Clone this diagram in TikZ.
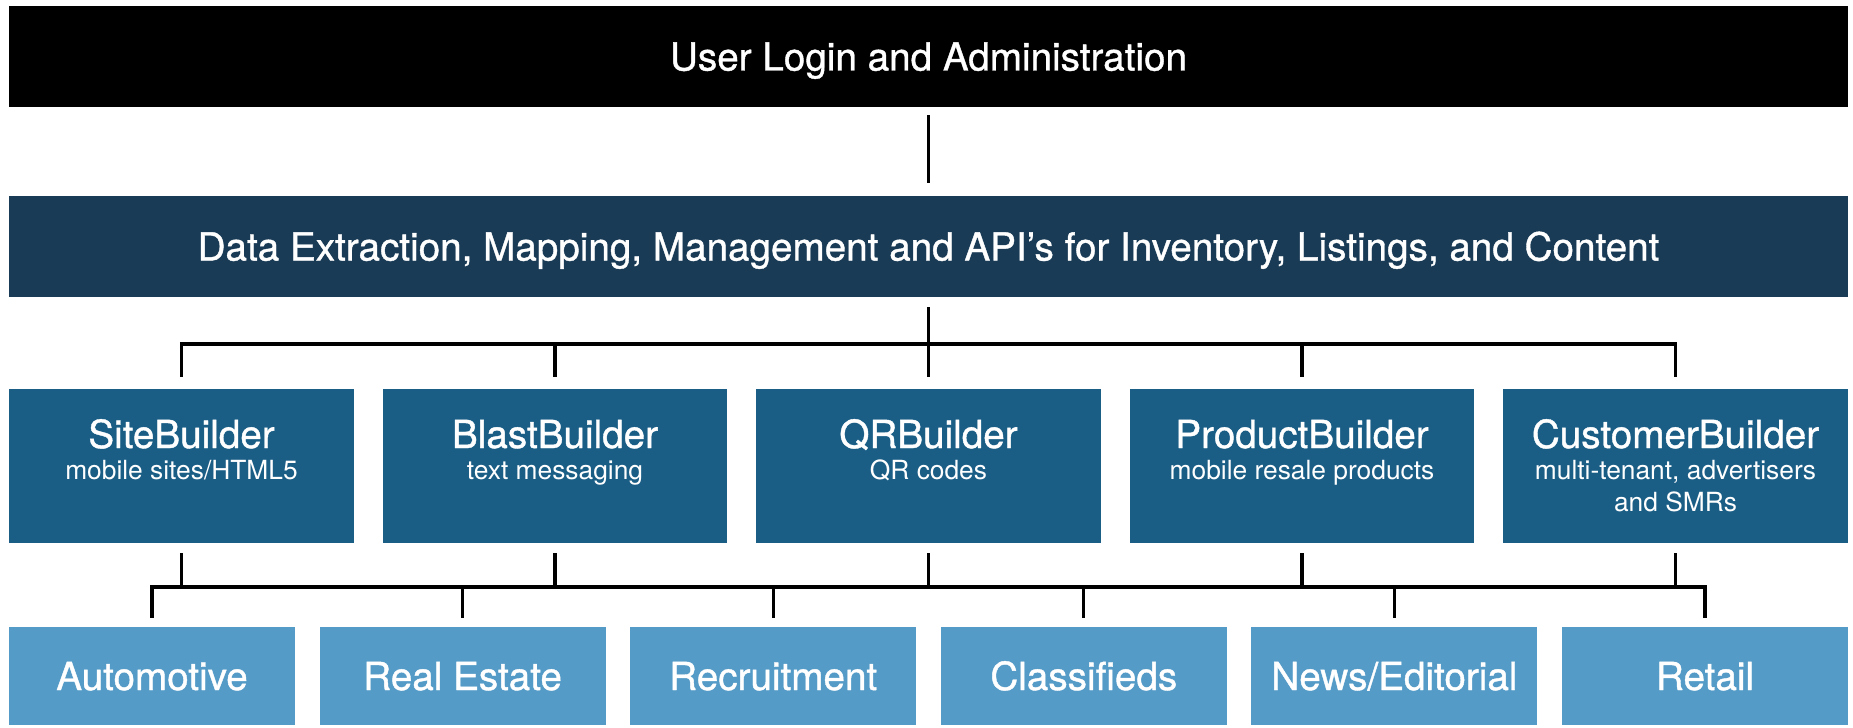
\documentclass[tikz,border=0pt]{standalone}
\usepackage{fontspec}
\setmainfont{TeX Gyre Heros}
\newfontfamily\medfont[FakeBold=1]{TeX Gyre Heros}
\usetikzlibrary{positioning,calc}
\definecolor{loginblack}{RGB}{0,0,0}
\definecolor{datanavy}{RGB}{26,59,86}
\definecolor{builderblue}{RGB}{26,94,134}
\definecolor{marketblue}{RGB}{85,155,199}
\tikzset{
  barnode/.style={fill=#1,text=white,minimum width=36.78cm,minimum height=2.02cm,
    inner sep=0pt,text height=0.56cm,text depth=0pt,font=\medfont\fontsize{22}{26}\selectfont},
  buildernode/.style={fill=builderblue,text=white,inner sep=0pt,
    minimum width=6.9cm,minimum height=3.08cm,font=\fontsize{15}{18}\selectfont},
  marketnode/.style={fill=marketblue,text=white,minimum width=5.72cm,minimum height=1.96cm,
    inner sep=0pt,text height=0.56cm,text depth=0pt,font=\medfont\fontsize{22}{26}\selectfont},
  treeline/.style={line width=0.065cm,draw=black}
}
\newcommand{\btitle}[1]{{\medfont\fontsize{22}{26}\selectfont #1}}
\newcommand{\bcontent}[2]{\parbox[c][3.08cm][t]{6.9cm}{\centering\rule{0pt}{1.18cm}\btitle{#1}\\#2}}

\begin{document}
\begin{tikzpicture}[x=0.02cm,y=-0.02cm]
  \useasboundingbox (0,0) rectangle (1853,727);
  % top bars
  \node[barnode=loginblack] (login) at (928.5,56.5) {User Login and Administration};
  \node[barnode=datanavy] (data) at (928.5,246.5) {Data Extraction, Mapping, Management and API’s for Inventory, Listings, and Content};
  % builders
  \node[buildernode] (site) at (181.5,466) {\bcontent{SiteBuilder}{mobile sites/HTML5}};
  \node[buildernode] (blast) at (555,466) {\bcontent{BlastBuilder}{text messaging}};
  \node[buildernode] (qr) at (928.5,466) {\bcontent{QRBuilder}{QR codes}};
  \node[buildernode] (product) at (1302,466) {\bcontent{ProductBuilder}{mobile resale products}};
  \node[buildernode] (customer) at (1675.5,466) {\bcontent{CustomerBuilder}{multi-tenant, advertisers\\and SMRs}};
  % markets
  \node[marketnode] (auto) at (152,676) {Automotive};
  \node[marketnode] (estate) at (462.6,676) {Real Estate};
  \node[marketnode] (recruit) at (773.2,676) {Recruitment};
  \node[marketnode] (classified) at (1083.8,676) {Classifieds};
  \node[marketnode] (news) at (1394.4,676) {News/Editorial};
  \node[marketnode] (retail) at (1705,676) {Retail};
  \coordinate (bus1) at (0,344);
  \coordinate (bus2) at (0,587);
  % connectors
  \draw[treeline,shorten <=0.16cm,shorten >=0.26cm] (login.south) -- (data.north);
  \draw[treeline,shorten <=0.2cm,shorten >=0.24cm] (data.south) -- (qr.north);
  \draw[treeline] ([yshift=0.24cm]site.north) -- (site.north |- bus1)
    -- (customer.north |- bus1) -- ([yshift=0.24cm]customer.north);
  \foreach \b in {blast,product}
    \draw[treeline,shorten >=0.24cm] (\b.north |- bus1) -- (\b.north);
  \foreach \b in {site,blast,qr,product,customer}
    \draw[treeline,shorten <=0.2cm] (\b.south) -- (\b.south |- bus2);
  \draw[treeline] ([yshift=0.18cm]auto.north) -- (auto.north |- bus2)
    -- (retail.north |- bus2) -- ([yshift=0.18cm]retail.north);
  \foreach \m in {estate,recruit,classified,news}
    \draw[treeline,shorten >=0.18cm] (\m.north |- bus2) -- (\m.north);
\end{tikzpicture}
\end{document}
